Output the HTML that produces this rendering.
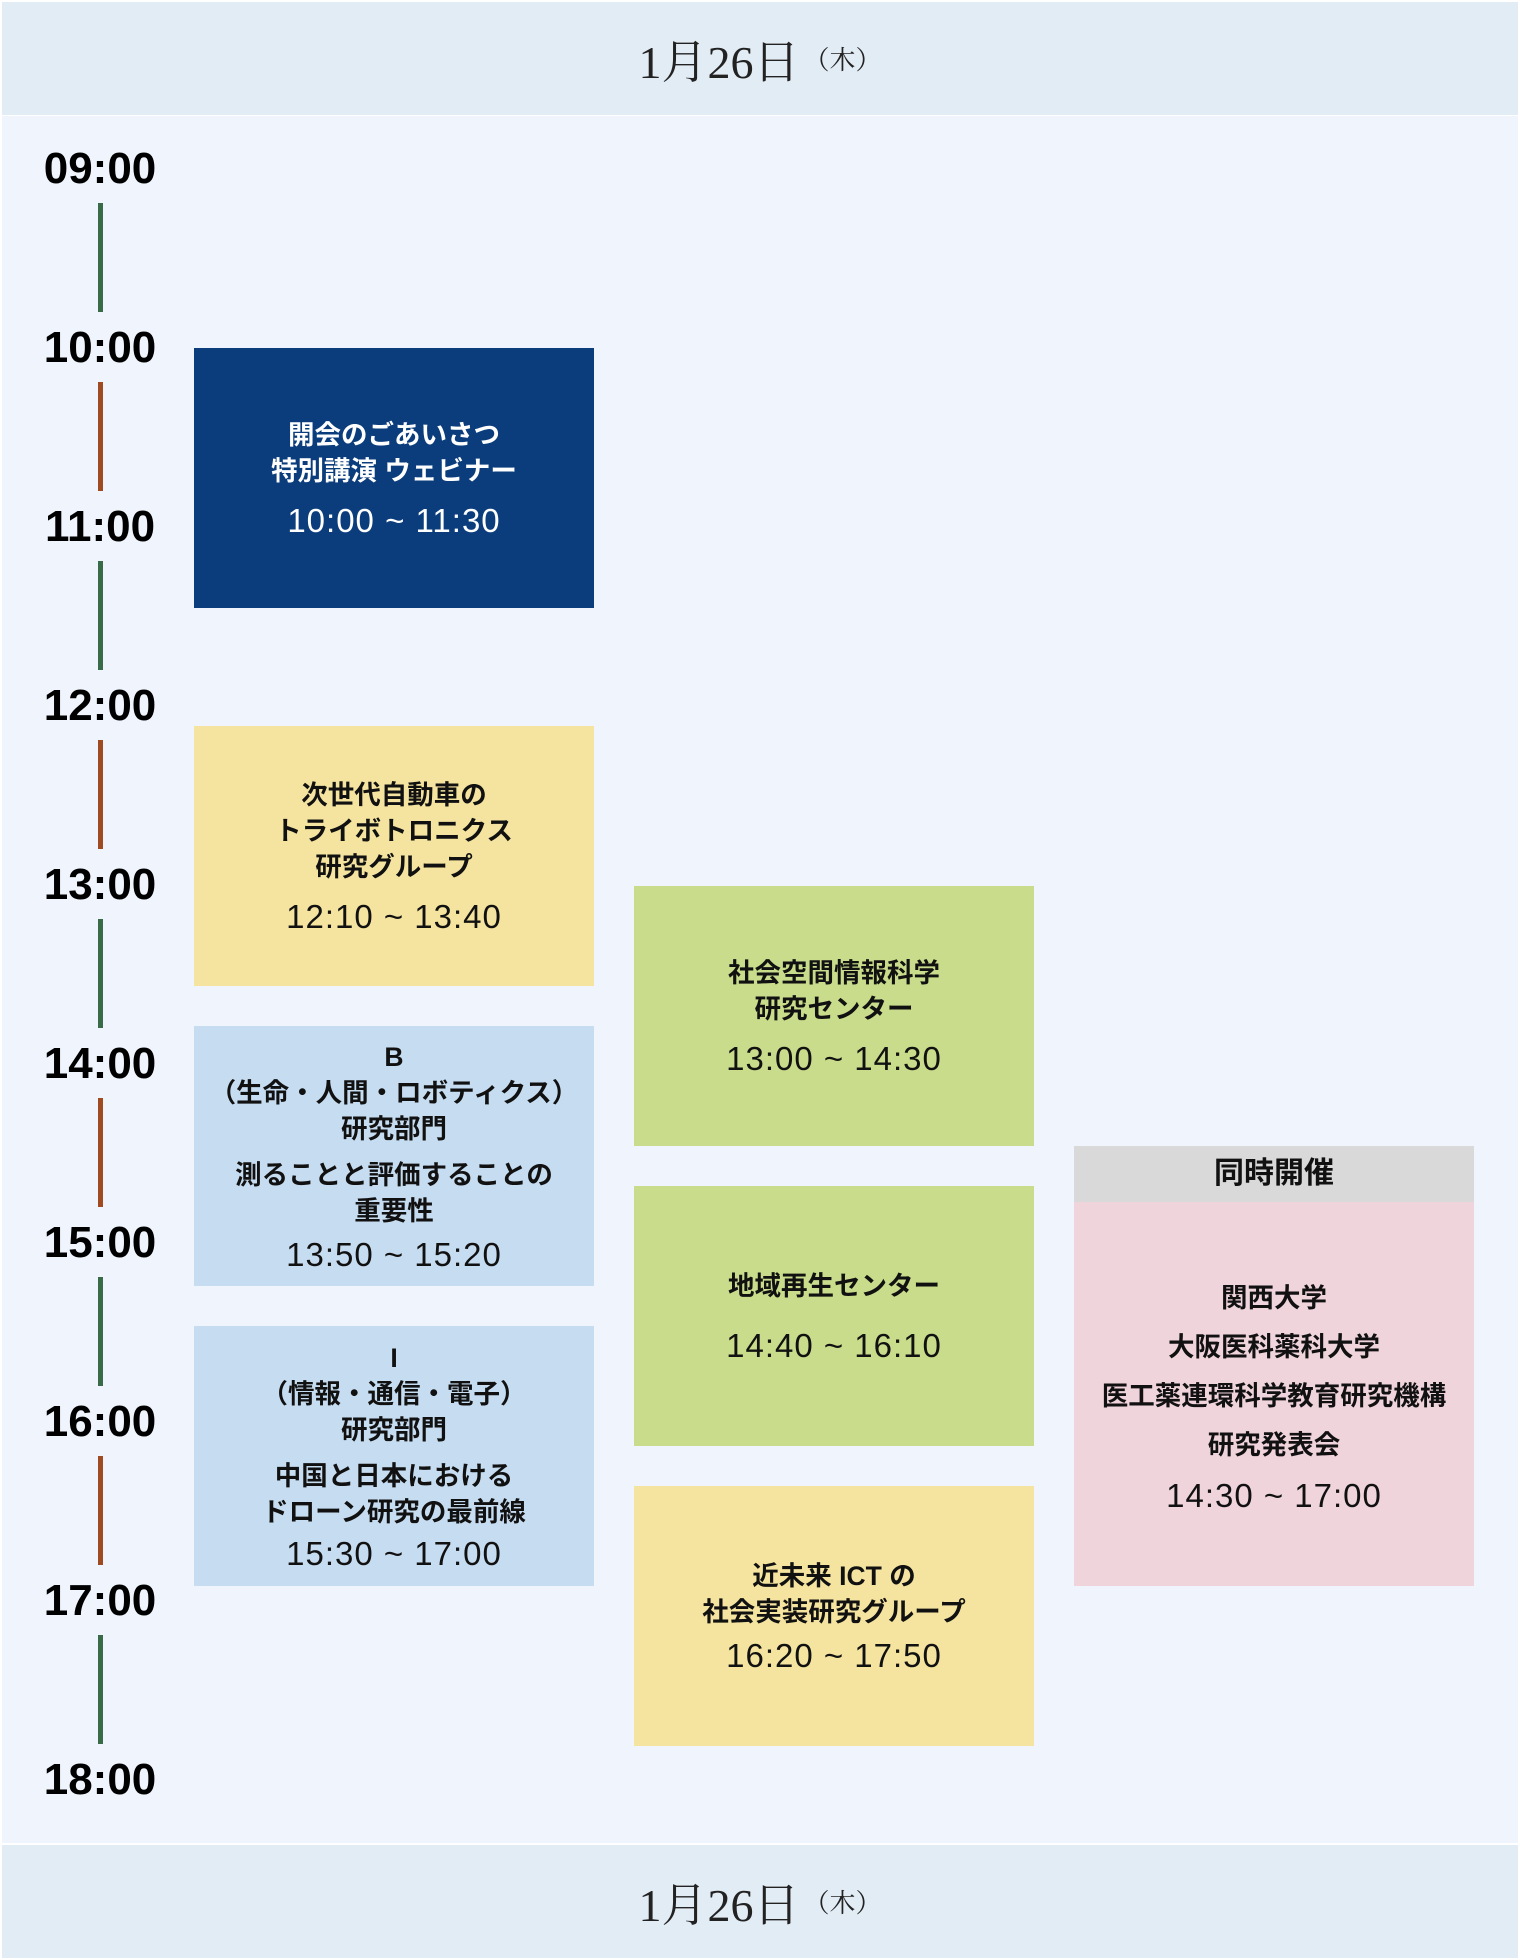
<!DOCTYPE html>
<html><head><meta charset="utf-8"><style>
body{margin:0;width:1520px;height:1960px;background:#fff;position:relative;overflow:hidden;font-family:"Liberation Sans","Noto Sans CJK JP",sans-serif;}
.hdr{position:absolute;left:2px;width:1516px;height:113px;background:#e2ecf5;display:flex;align-items:center;justify-content:center;font-family:"Liberation Serif","Noto Serif CJK SC",serif;font-size:46px;color:#222;}
.hdr small{font-size:26px;margin-left:4px}
.main{position:absolute;left:2px;top:116px;width:1516px;height:1727px;background:#f0f5fd;}
.t{position:absolute;left:10px;width:180px;text-align:center;font-weight:bold;font-size:44px;color:#000;line-height:44px;margin-top:-22px}
.bar{position:absolute;left:98px;width:5px;height:109px}
.g{background:#3a6b48}.r{background:#a04a22}
.box{position:absolute;width:400px;display:flex;flex-direction:column;align-items:center;justify-content:center;text-align:center;font-weight:bold;font-size:26.5px;line-height:36px;color:#111}
.tm{font-weight:normal;font-size:33px;letter-spacing:1px;margin-top:14px;line-height:36px}
.c1{left:194px}.c2{left:634px}.c3{left:1074px}
</style></head><body>
<div class="hdr" style="top:2px">1月26日<small>（木）</small></div>
<div class="main"></div>
<div class="hdr" style="top:1845px">1月26日<small>（木）</small></div>

<div class="t" style="top:169px">09:00</div>
<div class="t" style="top:348px">10:00</div>
<div class="t" style="top:527px">11:00</div>
<div class="t" style="top:706px">12:00</div>
<div class="t" style="top:885px">13:00</div>
<div class="t" style="top:1064px">14:00</div>
<div class="t" style="top:1243px">15:00</div>
<div class="t" style="top:1422px">16:00</div>
<div class="t" style="top:1601px">17:00</div>
<div class="t" style="top:1780px">18:00</div>

<div class="bar g" style="top:203px"></div>
<div class="bar r" style="top:382px"></div>
<div class="bar g" style="top:561px"></div>
<div class="bar r" style="top:740px"></div>
<div class="bar g" style="top:919px"></div>
<div class="bar r" style="top:1098px"></div>
<div class="bar g" style="top:1277px"></div>
<div class="bar r" style="top:1456px"></div>
<div class="bar g" style="top:1635px"></div>

<div class="box c1" style="top:348px;height:260px;background:#0b3c7b;color:#fff"><div>開会のごあいさつ<br>特別講演 ウェビナー</div><div class="tm">10:00 ~ 11:30</div></div>
<div class="box c1" style="top:726px;height:260px;background:#f5e4a0"><div>次世代自動車の<br>トライボトロニクス<br>研究グループ</div><div class="tm">12:10 ~ 13:40</div></div>
<div class="box c1" style="top:1026px;height:260px;background:#c6dcf0"><div>B<br>（生命・人間・ロボティクス）<br>研究部門</div><div style="margin-top:10px">測ることと評価することの<br>重要性</div><div class="tm" style="margin-top:8px">13:50 ~ 15:20</div></div>
<div class="box c1" style="top:1326px;height:260px;background:#c6dcf0"><div>I<br>（情報・通信・電子）<br>研究部門</div><div style="margin-top:10px">中国と日本における<br>ドローン研究の最前線</div><div class="tm" style="margin-top:6px">15:30 ~ 17:00</div></div>

<div class="box c2" style="top:886px;height:260px;background:#c8dc8b"><div>社会空間情報科学<br>研究センター</div><div class="tm">13:00 ~ 14:30</div></div>
<div class="box c2" style="top:1186px;height:260px;background:#c8dc8b"><div>地域再生センター</div><div class="tm" style="margin-top:24px">14:40 ~ 16:10</div></div>
<div class="box c2" style="top:1486px;height:260px;background:#f5e4a0"><div>近未来 ICT の<br>社会実装研究グループ</div><div class="tm" style="margin-top:8px">16:20 ~ 17:50</div></div>

<div class="box c3" style="top:1146px;height:56px;background:#d9d9d9;font-size:30px">同時開催</div>
<div class="box c3" style="top:1202px;height:384px;background:#f0d4dc;line-height:49px"><div>関西大学<br>大阪医科薬科大学<br>医工薬連環科学教育研究機構<br>研究発表会</div><div class="tm" style="margin-top:8px">14:30 ~ 17:00</div></div>
</body></html>
